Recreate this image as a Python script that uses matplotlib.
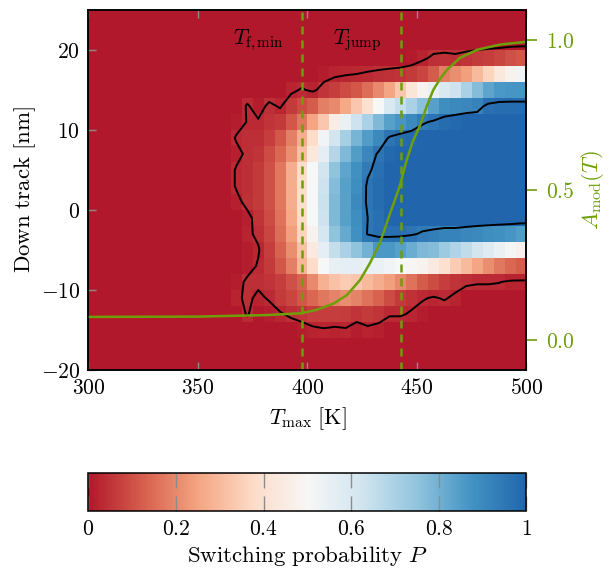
import numpy as np
import matplotlib
matplotlib.use("Agg")
import matplotlib.pyplot as plt
from matplotlib.colors import LinearSegmentedColormap
from matplotlib.ticker import FuncFormatter

plt.rcParams['mathtext.fontset'] = 'cm'
plt.rcParams['font.family'] = 'serif'
plt.rcParams['font.serif'] = ['cmr10', 'DejaVu Serif']
plt.rcParams['axes.unicode_minus'] = False
FS = 15.5

# grid of the switching-probability map (cell edges)
t_edges = np.arange(300, 505, 5)
y_edges = np.arange(-20, 28, 2)

# P in percent, columns T = 360 ... 495 K (cell left edges), rows by cell centre y
p_y19 = [0, 0, 0, 0, 0, 0, 0, 0, 0, 0, 0, 0, 0, 0, 0, 0, 0, 0.5, 2, 4, 4.5, 4, 5, 6, 7, 8, 10, 11]
p_y17 = [0, 0, 0, 0, 0, 0, 0, 0, 0, 1, 2, 2.5, 3, 3.5, 4, 4.5, 5, 6, 8, 12, 18, 21, 24, 30, 36, 43, 48, 52]
p_y15 = [0, 0, 0, 0, 0, 0, 2, 3.5, 2, 5, 7, 9, 11, 15, 20, 25, 33, 42, 48, 55, 60, 63, 70, 77, 83, 86, 87, 87]
p_y13 = [0, 0, 3.5, 1, 4, 2.5, 6, 9, 12, 18, 20, 26, 33, 40, 50, 60, 65, 70, 76, 84, 89, 90, 91, 92, 97, 98, 98, 98]
p_y11 = [0, 1, 3.2, 3.5, 5, 6, 11, 17, 25, 33, 45, 54, 63, 70, 78, 84, 87, 90, 94, 96, 98, 99, 100, 100, 100, 100, 100, 100]
p_y9 = [0, 3.5, 4, 4, 7, 11, 18, 27, 38, 52, 62, 71, 79, 85, 90, 96, 98, 99, 100, 100, 100, 100, 100, 100, 100, 100, 100, 100]
p_y7 = [0, 1.5, 4, 5, 9, 14, 21, 31, 43, 56, 68, 78, 85, 91, 96, 99, 100, 100, 100, 100, 100, 100, 100, 100, 100, 100, 100, 100]
p_y5 = [0, 3.5, 4, 6, 10, 17, 27, 38, 50, 62, 75, 83, 88, 94, 97, 100, 100, 100, 100, 100, 100, 100, 100, 100, 100, 100, 100, 100]
p_y3 = [0, 3.5, 4, 6, 10, 17, 27, 39, 50, 63, 77, 84, 89, 96, 98, 100, 100, 100, 100, 100, 100, 100, 100, 100, 100, 100, 100, 100]
p_y1 = [0, 1.5, 4.5, 6, 10, 17, 27, 39, 50, 64, 78, 84, 90, 96, 98, 100, 100, 100, 100, 100, 100, 100, 100, 100, 100, 100, 100, 100]
p_ym1 = [0, 0, 1.5, 5, 9, 16, 26, 38, 50, 63, 78, 84, 89, 95, 97, 100, 100, 100, 100, 100, 100, 100, 100, 100, 100, 100, 100, 100]
p_ym3 = [0, 0, 2, 4, 8, 15, 24, 36, 48, 61, 75, 82, 88, 95.5, 97, 97, 97, 96, 94, 93, 92, 92, 91, 90, 89, 88, 87, 85]
p_ym5 = [0, 0, 1, 2.5, 7, 13, 21, 32, 44, 56, 65, 70, 75, 80, 86, 86, 84, 81, 78, 77, 73, 69, 66, 62, 58, 54, 51, 47]
p_ym7 = [0, 0, 1, 3.5, 6, 11, 18, 29, 38, 50, 55, 56, 56, 55, 54, 52, 50, 49, 48, 44, 40, 34, 30, 25, 21, 17, 14, 12]
p_ym9 = [0, 1, 4, 4, 5, 7, 10, 13, 20, 28, 32, 34, 33, 30, 27, 24, 20, 16, 12, 9, 7, 5, 4, 3.5, 3.5, 3.2, 2, 2]
p_ym11 = [0, 2, 4, 2, 3.5, 6, 8, 11, 14, 17, 19, 21, 19, 16, 13, 9, 6, 4.5, 3.5, 2.5, 3.5, 2, 0, 0, 0, 0, 0, 0]
p_ym13 = [0, 0, 3.5, 0, 1, 2.5, 4, 5, 6.5, 7, 7, 6.5, 5, 6, 5, 3.5, 3.5, 2.5, 1, 0, 0, 0, 0, 0, 0, 0, 0, 0]
p_ym15 = [0, 0, 0, 0, 0, 0, 0, 1, 2, 2.5, 2, 2.5, 1, 2, 1.5, 0, 0, 0, 0, 0, 0, 0, 0, 0, 0, 0, 0, 0]
row_centres = [19, 17, 15, 13, 11, 9, 7, 5, 3, 1, -1, -3, -5, -7, -9, -11, -13, -15]
rows = [p_y19, p_y17, p_y15, p_y13, p_y11, p_y9, p_y7, p_y5, p_y3, p_y1,
        p_ym1, p_ym3, p_ym5, p_ym7, p_ym9, p_ym11, p_ym13, p_ym15]
first_col_t = 360

# A_mod(T)
t_curve = [300, 350, 381, 397, 404, 412, 418, 424, 428.5, 433, 437.7, 442, 445.3,
           448, 451.4, 454.5, 457.4, 460.5, 463.6, 469.6, 477.3, 488, 500]
a_curve = [0.077, 0.078, 0.083, 0.089, 0.1, 0.122, 0.15, 0.2, 0.256, 0.322, 0.422, 0.51, 0.6,
           0.66, 0.716, 0.78, 0.833, 0.87, 0.9, 0.94, 0.967, 0.985, 0.994]

t_fmin = 397.5
t_jump = 442.5

green = '#6e9e0a'
rdbu = ['#b2182b', '#d6604d', '#f4a582', '#fddbc7', '#f7f7f7',
        '#d1e5f0', '#92c5de', '#4393c3', '#2166ac']
cmap = LinearSegmentedColormap.from_list('rdbu9', rdbu)

# fill the full grid
t_c = 0.5 * (t_edges[1:] + t_edges[:-1])
y_c = 0.5 * (y_edges[1:] + y_edges[:-1])
P = np.zeros((len(y_c), len(t_c)))
j0 = int((first_col_t - 300) / 5)
for yc, r in zip(row_centres, rows):
    i = int(np.argmin(np.abs(y_c - yc)))
    P[i, j0:j0 + len(r)] = np.array(r) / 100.0

fig = plt.figure(figsize=(6.11, 5.71), dpi=100)
ax = fig.add_axes([0.1448, 0.352, 0.7169, 0.6305])
cax = fig.add_axes([0.1448, 0.105, 0.7169, 0.0666])

mesh = ax.pcolormesh(t_edges, y_edges, P, cmap=cmap, vmin=0, vmax=1, shading='flat')

# contours, padded to the axis edges
tc_pad = np.concatenate([[300], t_c, [500]])
P_pad = np.pad(P, ((0, 0), (1, 1)), mode='edge')
ax.contour(tc_pad, y_c, P_pad, levels=[0.03, 0.95], colors='k', linewidths=1.4)

ax.axvline(t_fmin, color=green, lw=1.8, ls=(0, (3.2, 2.4)))
ax.axvline(t_jump, color=green, lw=1.8, ls=(0, (3.2, 2.4)))
ax.text(377.5, 21.2, r'$T_{\rm f,min}$', ha='center', va='center', fontsize=FS)
ax.text(422.5, 21.2, r'$T_{\rm jump}$', ha='center', va='center', fontsize=FS)

ax.set_xlim(300, 500)
ax.set_ylim(-20, 25)
ax.set_xticks([300, 350, 400, 450, 500])
ax.set_yticks([-20, -10, 0, 10, 20])
mfmt = FuncFormatter(lambda v, p: r'$%g$' % v)
ax.xaxis.set_major_formatter(mfmt)
ax.yaxis.set_major_formatter(mfmt)
ax.tick_params(direction='in', color='#8c8c8c', length=6, width=1,
               top=True, right=True, labelsize=FS, pad=6)
ax.set_xlabel(r'$T_{\rm max}\;[\mathrm{K}]$', fontsize=FS + 0.5, labelpad=5)
ax.set_ylabel(r'$\mathrm{Down\ track\ [nm]}$', fontsize=FS + 1, labelpad=2)
for s in ax.spines.values():
    s.set_linewidth(1.1)

ax2 = ax.twinx()
ax2.set_position(ax.get_position())
ax2.plot(t_curve, a_curve, color=green, lw=1.8)
ax2.set_ylim(-0.1, 1.1)
ax2.set_yticks([0, 0.5, 1.0])
ax2.yaxis.set_major_formatter(FuncFormatter(lambda v, p: r'$%.1f$' % v))
ax2.tick_params(axis='y', direction='out', color=green, labelcolor=green,
                length=8, width=1.2, labelsize=FS, pad=6)
ax2.set_ylabel(r'$A_{\rm mod}(T)$', color=green, fontsize=FS + 1, labelpad=3)
for s in ax2.spines.values():
    s.set_linewidth(1.1)

cb = fig.colorbar(mesh, cax=cax, orientation='horizontal')
cb.set_ticks([0, 0.2, 0.4, 0.6, 0.8, 1])
cax.xaxis.set_major_formatter(FuncFormatter(lambda v, p: r'$%g$' % v))
cax.tick_params(direction='in', color='#8c8c8c', length=11, width=1,
                top=True, bottom=True, labelsize=FS, pad=6)
cb.outline.set_linewidth(1.1)
cb.set_label(r'$\mathrm{Switching\ probability}\ P$', fontsize=FS + 1, labelpad=4)

fig.savefig('out.png', dpi=100)
